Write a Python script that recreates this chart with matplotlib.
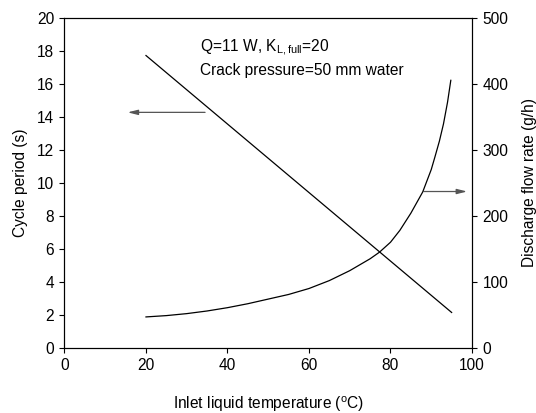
import matplotlib
matplotlib.use("Agg")
import matplotlib.pyplot as plt
import numpy as np

plt.rcParams['font.family'] = ['Liberation Sans', 'DejaVu Sans']
plt.rcParams['mathtext.fontset'] = 'custom'
plt.rcParams['mathtext.rm'] = 'Liberation Sans'
plt.rcParams['mathtext.it'] = 'Liberation Sans'

# Cycle period (left axis)
period_temp = [20, 95]
period_s = [17.7, 2.15]

# Discharge flow rate (right axis)
flow_temp = [20, 25, 30, 35, 40, 45, 50, 55, 60, 65, 70, 75, 77.3, 80, 82.3, 85, 87.9, 90, 90.9, 92, 93, 94, 94.8]
flow_gph = [47, 49, 52, 56, 61, 67, 74, 81, 90, 102, 117, 135, 145, 160, 178, 204, 236, 270, 289, 313, 339, 372, 405]

xticks = [0, 20, 40, 60, 80, 100]
yticks_left = [0, 2, 4, 6, 8, 10, 12, 14, 16, 18, 20]
yticks_right = [0, 100, 200, 300, 400, 500]

fig = plt.figure(figsize=(5.36, 4.13), dpi=100)
ax = fig.add_axes([0.1203, 0.1574, 0.7603, 0.8002])
ax2 = ax.twinx()

fs = 11.2
ax.plot(period_temp, period_s, color='black', lw=0.9)
ax2.plot(flow_temp, flow_gph, color='black', lw=0.9)

ax.set_xlim(0, 100)
ax.set_ylim(0, 20)
ax2.set_ylim(0, 500)
ax.set_xticks(xticks)
ax.set_yticks(yticks_left)
ax2.set_yticks(yticks_right)

for a in (ax, ax2):
    a.tick_params(direction='out', length=3.5, width=0.8, labelsize=fs, pad=4)
    for s in a.spines.values():
        s.set_linewidth(0.8)

ax.set_xlabel('Inlet liquid temperature ($^{\\mathrm{o}}$C)', fontsize=fs, labelpad=15)
ax.set_ylabel('Cycle period (s)', fontsize=fs, labelpad=6)
ax2.set_ylabel('Discharge flow rate (g/h)', fontsize=fs, labelpad=10)

ax.text(33.3, 17.9, 'Q=11 W, K$_{\\mathrm{L,full}}$=20', fontsize=fs, va='baseline', ha='left')
ax.text(33.3, 16.55, 'Crack pressure=50 mm water', fontsize=fs, va='baseline', ha='left')

arrow_kw = dict(arrowstyle='-|>,head_length=0.6,head_width=0.15', color='#555555', lw=0.9, shrinkA=0, shrinkB=0)
ax.annotate('', xy=(15.5, 14.26), xytext=(34.5, 14.26), arrowprops=arrow_kw)
ax.annotate('', xy=(98.8, 9.47), xytext=(88.2, 9.47), arrowprops=arrow_kw)

fig.savefig('out.png', dpi=100)
